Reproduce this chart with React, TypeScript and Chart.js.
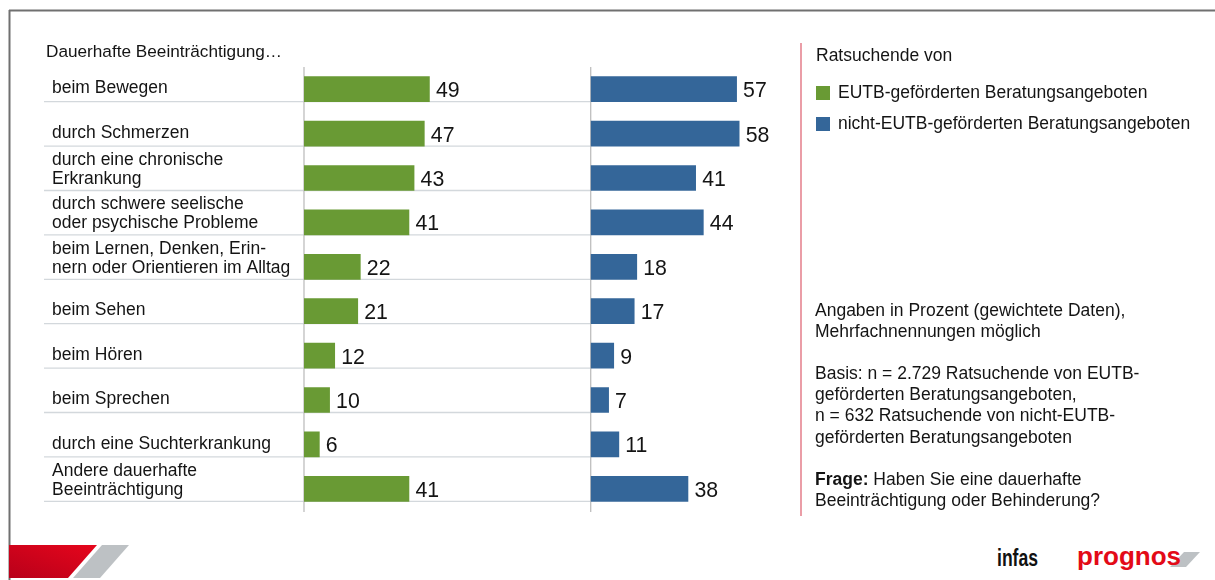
import React, { useEffect, useRef } from 'react';
import { Chart, registerables } from 'chart.js';

Chart.register(...registerables);

// ---------- data ----------
const chartTitle = 'Dauerhafte Beeinträchtigung…';

const categories: string[][] = [
  ['beim Bewegen'],
  ['durch Schmerzen'],
  ['durch eine chronische', 'Erkrankung'],
  ['durch schwere seelische', 'oder psychische Probleme'],
  ['beim Lernen, Denken, Erin-', 'nern oder Orientieren im Alltag'],
  ['beim Sehen'],
  ['beim Hören'],
  ['beim Sprechen'],
  ['durch eine Suchterkrankung'],
  ['Andere dauerhafte', 'Beeinträchtigung'],
];

const eutbValues = [49, 47, 43, 41, 22, 21, 12, 10, 6, 41];
const nichtEutbValues = [57, 58, 41, 44, 18, 17, 9, 7, 11, 38];

const seriesNames = [
  'EUTB-geförderten Beratungsangeboten',
  'nicht-EUTB-geförderten Beratungsangeboten',
];
const legendTitle = 'Ratsuchende von';

const noteParagraphs: { bold?: string; lines: string[] }[] = [
  { lines: ['Angaben in Prozent (gewichtete Daten),', 'Mehrfachnennungen möglich'] },
  {
    lines: [
      'Basis: n = 2.729 Ratsuchende von EUTB-',
      'geförderten Beratungsangeboten,',
      'n = 632 Ratsuchende von nicht-EUTB-',
      'geförderten Beratungsangeboten',
    ],
  },
  { bold: 'Frage:', lines: [' Haben Sie eine dauerhafte', 'Beeinträchtigung oder Behinderung?'] },
];

const axisMax = 112;

// ---------- styles ----------
const FONT = "'Liberation Sans', Arial, Helvetica, sans-serif";
const GREEN = '#699A34';
const BLUE = '#346699';
const seriesColors = [GREEN, BLUE];
const TEXT = '#141414';
const TXT_SIZE = 17.5;
const LINE_H = 21.1;
const ASC_OFF = (LINE_H - TXT_SIZE * 1.117) / 2 + 0.905 * TXT_SIZE;

const decorPlugin = {
  id: 'reportDecor',
  beforeDatasetsDraw(chart: any) {
    const { ctx, chartArea } = chart;
    const xG = chart.scales.xG;
    const xB = chart.scales.xB;
    const blueZero = xB.getPixelForValue(0);
    const greenZero = xG.getPixelForValue(0);
    ctx.save();
    ctx.strokeStyle = '#D3D8DC';
    ctx.lineWidth = 1.3;
    chart.getDatasetMeta(0).data.forEach((bar: any) => {
      const p = bar.getProps(['y', 'height'], true);
      const yy = p.y + p.height / 2;
      ctx.beginPath();
      ctx.moveTo(44, yy);
      ctx.lineTo(blueZero, yy);
      ctx.stroke();
    });
    ctx.strokeStyle = '#BEBEBE';
    ctx.lineWidth = 1.3;
    [greenZero, blueZero].forEach((x) => {
      ctx.beginPath();
      ctx.moveTo(x, chartArea.top);
      ctx.lineTo(x, chartArea.bottom + 1);
      ctx.stroke();
    });
    ctx.restore();
  },
  afterDatasetsDraw(chart: any) {
    const { ctx } = chart;
    ctx.save();
    ctx.fillStyle = TEXT;
    ctx.textAlign = 'left';
    ctx.textBaseline = 'alphabetic';
    ctx.font = `17.2px ${FONT}`;
    ctx.fillText(chartTitle, 46, 56.7);
    ctx.font = `${TXT_SIZE}px ${FONT}`;
    chart.getDatasetMeta(0).data.forEach((bar: any, i: number) => {
      const p = bar.getProps(['y', 'height'], true);
      const bottom = p.y + p.height / 2;
      const lines = categories[i];
      const n = lines.length;
      const lastBase = n === 1 ? bottom - 8.4 : bottom - 6.5;
      lines.forEach((t, k) => ctx.fillText(t, 52, lastBase - (n - 1 - k) * 19));
    });
    ctx.font = `21.3px ${FONT}`;
    chart.data.datasets.forEach((ds: any, di: number) => {
      chart.getDatasetMeta(di).data.forEach((bar: any, i: number) => {
        const p = bar.getProps(['x', 'y'], true);
        ctx.fillText(String(ds.data[i]), p.x + 6.5, p.y + 8);
      });
    });
    ctx.restore();
  },
};

function BarChart() {
  const ref = useRef<HTMLCanvasElement | null>(null);
  useEffect(() => {
    if (!ref.current) return;
    const chart = new Chart(ref.current, {
      type: 'bar',
      data: {
        labels: categories.map((c) => c.join(' ')),
        datasets: [
          {
            label: seriesNames[0],
            data: eutbValues,
            backgroundColor: GREEN,
            borderWidth: 0,
            xAxisID: 'xG',
            barThickness: 25,
            grouped: false,
          },
          {
            label: seriesNames[1],
            data: nichtEutbValues,
            backgroundColor: BLUE,
            borderWidth: 0,
            xAxisID: 'xB',
            barThickness: 25,
            grouped: false,
          },
        ],
      } as any,
      options: {
        indexAxis: 'y',
        animation: false,
        responsive: false,
        maintainAspectRatio: false,
        layout: { padding: { left: 304, top: 67, right: 337.6, bottom: 69 } },
        scales: {
          y: { type: 'category', display: false, offset: true },
          xG: {
            type: 'linear',
            position: 'bottom',
            stack: 'panels',
            stackWeight: 1,
            min: 0,
            max: axisMax,
            display: false,
          },
          xB: {
            type: 'linear',
            position: 'bottom',
            stack: 'panels',
            stackWeight: 1,
            min: 0,
            max: axisMax,
            display: false,
          },
        },
        plugins: { legend: { display: false }, tooltip: { enabled: false }, title: { display: false } },
      } as any,
      plugins: [decorPlugin],
    });
    return () => chart.destroy();
  }, []);
  return (
    <canvas
      ref={ref}
      width={1215}
      height={580}
      style={{ position: 'absolute', left: 0, top: 0, width: 1215, height: 580, display: 'block' }}
    />
  );
}

function textTop(baseline: number) {
  return baseline - ASC_OFF;
}

export default function App() {
  const legendBaselines = [98.3, 130];
  const notesFirstBaseline = 316.6;
  const baseText: React.CSSProperties = {
    position: 'absolute',
    fontFamily: FONT,
    fontSize: TXT_SIZE,
    lineHeight: `${LINE_H}px`,
    color: TEXT,
    whiteSpace: 'nowrap',
  };
  return (
    <div
      style={{
        position: 'absolute',
        left: 0,
        top: 0,
        width: 1215,
        height: 580,
        background: '#ffffff',
        overflow: 'hidden',
      }}
    >
      <svg width={1215} height={580} style={{ position: 'absolute', left: 0, top: 0 }}>
        <defs>
          <linearGradient id="redg" x1="0" y1="1" x2="1" y2="0">
            <stop offset="0" stopColor="#B8001A" />
            <stop offset="1" stopColor="#E6061C" />
          </linearGradient>
        </defs>
        <line x1={9} y1={10.5} x2={1215} y2={10.5} stroke="#707070" strokeWidth={2} />
        <line x1={9.5} y1={10} x2={9.5} y2={580} stroke="#707070" strokeWidth={2} />
        <line x1={801} y1={43} x2={801} y2={516} stroke="#E27482" strokeWidth={1.4} />
        <polygon points="9,545 97,545 68,578 9,578" fill="url(#redg)" />
        <polygon points="102,545 129,545 100,578 73,578" fill="#BDC1C4" />
        <polygon points="1184,552 1200,552 1186,567 1170,567" fill="#BDC1C4" />
        <text
          x={997}
          y={566}
          fontFamily="'Liberation Sans Narrow', 'Liberation Sans', Arial, sans-serif"
          fontWeight="bold"
          fontSize={24}
          textLength={41}
          lengthAdjust="spacingAndGlyphs"
          fill="#111111"
        >
          infas
        </text>
        <text
          x={1077}
          y={565}
          fontFamily={FONT}
          fontWeight="bold"
          fontSize={26}
          textLength={104}
          lengthAdjust="spacingAndGlyphs"
          fill="#E30A17"
        >
          prognos
        </text>
      </svg>
      <BarChart />
      <div style={{ ...baseText, left: 816, top: textTop(61.7) }}>{legendTitle}</div>
      {seriesNames.map((name, i) => (
        <React.Fragment key={name}>
          <div
            style={{
              position: 'absolute',
              left: 816,
              top: legendBaselines[i] - 12.8,
              width: 14,
              height: 14,
              background: seriesColors[i],
            }}
          />
          <div style={{ ...baseText, left: 838, top: textTop(legendBaselines[i]) }}>{name}</div>
        </React.Fragment>
      ))}
      <div style={{ ...baseText, left: 815, top: textTop(notesFirstBaseline) }}>
        {noteParagraphs.map((p, pi) => (
          <div key={pi} style={{ marginBottom: pi < noteParagraphs.length - 1 ? LINE_H : 0 }}>
            {p.lines.map((l, li) => (
              <div key={li}>
                {li === 0 && p.bold ? <b>{p.bold}</b> : null}
                {l}
              </div>
            ))}
          </div>
        ))}
      </div>
    </div>
  );
}
